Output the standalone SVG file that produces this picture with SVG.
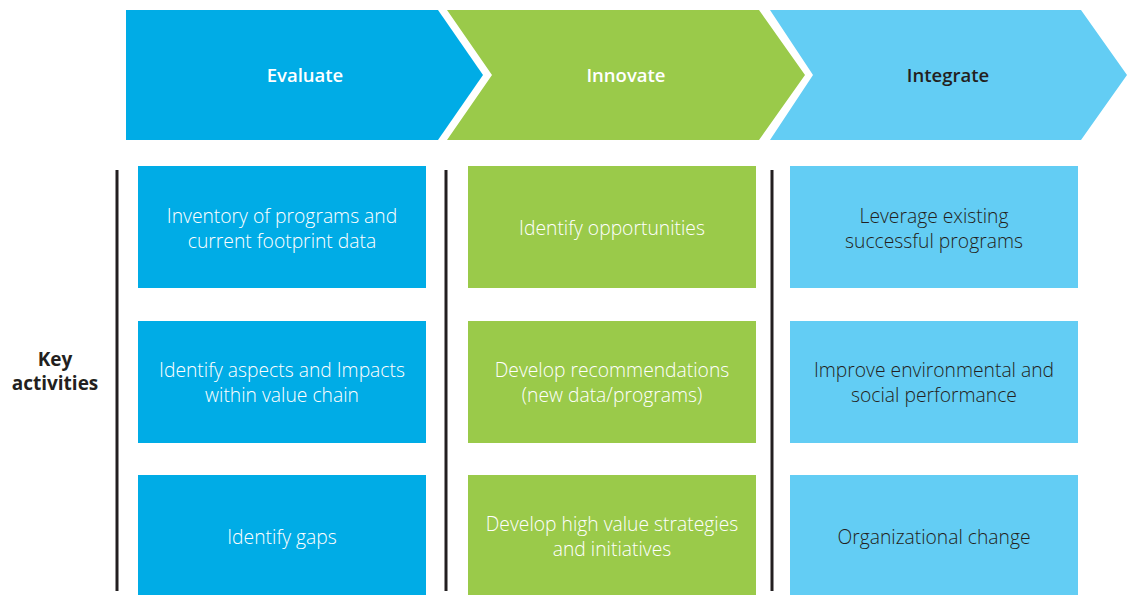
<svg xmlns="http://www.w3.org/2000/svg" width="1135" height="595" viewBox="0 0 1135 595">
<style>
.hd{font-family:"Open Sans","Liberation Sans",sans-serif;font-size:18.5px;font-weight:580;text-anchor:middle}
.bx{font-family:"Open Sans","Liberation Sans",sans-serif;font-size:19.3px;font-weight:300;text-anchor:middle}
.w{fill:#ffffff}
.d{fill:#231f20}
.c1{fill:#00ace6}
.c2{fill:#9aca4a}
.c3{fill:#63cdf4}
.vl{stroke:#231f20;stroke-width:3;fill:none}
</style>
<rect width="1135" height="595" fill="#ffffff"/>
<g id="chev-evaluate">
<polygon class="c1" points="126,10 438,10 483,75 438,140 126,140"/>
<text class="hd w" x="305" y="82">Evaluate</text>
</g>
<g id="chev-innovate">
<polygon class="c2" points="447,10 759,10 805,75 759,140 447,140 492,75"/>
<text class="hd w" x="626" y="82">Innovate</text>
</g>
<g id="chev-integrate">
<polygon class="c3" points="770,10 1081,10 1127,75 1081,140 770,140 813,75"/>
<text class="hd d" x="948" y="82">Integrate</text>
</g>
<g id="label-key">
<text class="hd d" style="font-weight:700;font-size:19px" x="55" y="366">Key</text>
<text class="hd d" style="font-weight:700;font-size:19px" x="55" y="390">activities</text>
</g>
<g id="connectors">
<line class="vl" x1="117" y1="170" x2="117" y2="591"/>
<line class="vl" x1="446" y1="170" x2="446" y2="591"/>
<line class="vl" x1="772" y1="170" x2="772" y2="591"/>
</g>
<g id="e1"><rect class="c1" x="138" y="166" width="288" height="122"/>
<text class="bx w" x="282" y="223">Inventory of programs and</text><text class="bx w" x="282" y="248">current footprint data</text></g>
<g id="e2"><rect class="c1" x="138" y="321" width="288" height="122"/>
<text class="bx w" x="282" y="377">Identify aspects and Impacts</text><text class="bx w" x="282" y="402">within value chain</text></g>
<g id="e3"><rect class="c1" x="138" y="475" width="288" height="120"/>
<text class="bx w" x="282" y="544">Identify gaps</text></g>
<g id="n1"><rect class="c2" x="468" y="166" width="288" height="122"/>
<text class="bx w" x="612" y="235">Identify opportunities</text></g>
<g id="n2"><rect class="c2" x="468" y="321" width="288" height="122"/>
<text class="bx w" x="612" y="377">Develop recommendations</text><text class="bx w" x="612" y="402">(new data/programs)</text></g>
<g id="n3"><rect class="c2" x="468" y="475" width="288" height="120"/>
<text class="bx w" x="612" y="531">Develop high value strategies</text><text class="bx w" x="612" y="556">and initiatives</text></g>
<g id="i1"><rect class="c3" x="790" y="166" width="288" height="122"/>
<text class="bx d" x="934" y="223">Leverage existing</text><text class="bx d" x="934" y="248">successful programs</text></g>
<g id="i2"><rect class="c3" x="790" y="321" width="288" height="122"/>
<text class="bx d" x="934" y="377">Improve environmental and</text><text class="bx d" x="934" y="402">social performance</text></g>
<g id="i3"><rect class="c3" x="790" y="475" width="288" height="120"/>
<text class="bx d" x="934" y="544">Organizational change</text></g>
</svg>
